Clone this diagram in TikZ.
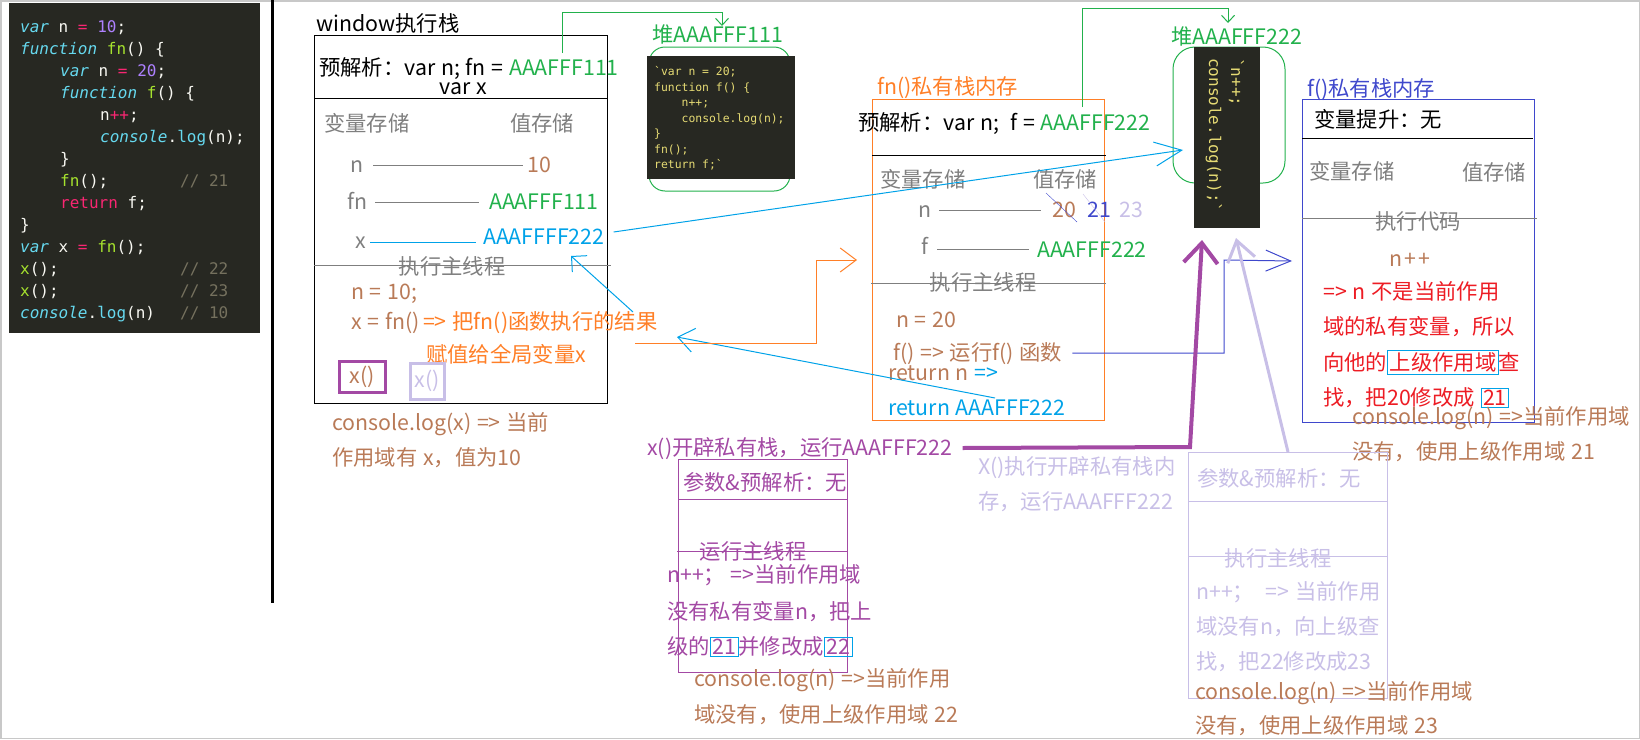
\documentclass[tikz,border=0pt]{standalone}
\usepackage{fontspec}
\setmainfont{Noto Sans CJK SC}
\newfontfamily\codefont{DejaVu Sans Mono}
\usetikzlibrary{positioning,arrows.meta,calc}
\usepackage{xcolor}

\definecolor{codebg}{RGB}{39,40,34}
\definecolor{mkwhite}{RGB}{248,248,242}
\definecolor{mkcyan}{RGB}{102,217,239}
\definecolor{mkpink}{RGB}{249,38,114}
\definecolor{mkpurple}{RGB}{174,129,255}
\definecolor{mkgreen}{RGB}{166,226,46}
\definecolor{mkgray}{RGB}{117,113,94}
\definecolor{mkyellow}{RGB}{230,219,116}
\definecolor{pbrown}{RGB}{185,122,87}
\definecolor{porange}{RGB}{255,127,39}
\definecolor{pgreen}{RGB}{34,177,76}
\definecolor{pblue}{RGB}{0,162,232}
\definecolor{pindigo}{RGB}{63,72,204}
\definecolor{ppurple}{RGB}{163,73,164}
\definecolor{plavender}{RGB}{200,191,231}
\definecolor{pred}{RGB}{237,28,36}
\definecolor{pgray}{RGB}{127,127,127}
\definecolor{framegray}{RGB}{200,200,200}

\newcommand{\kwd}[1]{{\color{mkcyan}\itshape #1}}
\newcommand{\opr}[1]{{\color{mkpink}#1}}
\newcommand{\numb}[1]{{\color{mkpurple}#1}}
\newcommand{\fnme}[1]{{\color{mkgreen}#1}}
\newcommand{\cfn}[1]{{\color{mkcyan}#1}}
\newcommand{\cmt}[1]{{\color{mkgray}#1}}
\newcommand{\markbox}[2]{{\setlength{\fboxsep}{1.5pt}\setlength{\fboxrule}{1pt}\color{pblue}\fbox{\color{#1}#2}}}
\newcommand{\lblfont}{\fontsize{21.33}{26}\selectfont\spaceskip 0.27em\relax}

\begin{document}
\begin{tikzpicture}[x=1pt,y=-1pt]

	\tikzstyle{lbl}=[inner sep=0pt, anchor=west, text height=18pt, text depth=3pt, font=\lblfont];
	\tikzstyle{ctr}=[lbl, anchor=center];
	\tikzstyle{stackbox}=[draw, rectangle, inner sep=0pt, anchor=north west, line width=1pt];
	\tikzstyle{callbox}=[draw, rectangle, inner sep=0pt, line width=3pt, font=\lblfont];
	\tikzstyle{codeln}=[inner sep=0pt, anchor=base west, text=mkwhite, font=\codefont\fontsize{16}{22}\selectfont];
	\tikzstyle{heapcode}=[inner sep=0pt, anchor=base west, text=mkyellow, font=\codefont\fontsize{11.4}{15}\selectfont];
	\tikzstyle{link}=[line width=1pt];
	\tikzstyle{arr_big}=[link, -{Straight Barb[length=27pt,width=24pt]}];
	\tikzstyle{arr_mid}=[link, -{Straight Barb[length=16pt,width=24pt]}];
	\tikzstyle{arr_short}=[link, -{Straight Barb[length=11pt,width=22pt]}];
	\tikzstyle{arr_small}=[link, -{Straight Barb[length=7pt,width=13pt]}];

	\useasboundingbox (0,0) rectangle (1640,739);
	\draw[framegray, line width=1.5pt] (0.75,0.75) rectangle (1639.25,738.25);

	% source code
	\fill[codebg] (9,3) rectangle (260,333);
	\node[codeln] (code_l1) at (20,32) {\kwd{var} n \opr{=} \numb{10};};
	\node[codeln] (code_l2) at (20,54) {\kwd{function} \fnme{fn}() \{};
	\node[codeln] (code_l3) at (60,76) {\kwd{var} n \opr{=} \numb{20};};
	\node[codeln] (code_l4) at (60,98) {\kwd{function} \fnme{f}() \{};
	\node[codeln] (code_l5) at (100,120) {n\opr{++};};
	\node[codeln] (code_l6) at (100,142) {\kwd{console}.\cfn{log}(n);};
	\node[codeln] (code_l7) at (60,164) {\}};
	\node[codeln] (code_l8) at (60,186) {\fnme{fn}();};
	\node[codeln] (code_c8) at (180,186) {\cmt{// 21}};
	\node[codeln] (code_l9) at (60,208) {\opr{return} f;};
	\node[codeln] (code_l10) at (20,230) {\}};
	\node[codeln] (code_l11) at (20,252) {\kwd{var} x \opr{=} \fnme{fn}();};
	\node[codeln] (code_l12) at (20,274) {\fnme{x}();};
	\node[codeln] (code_c12) at (180,274) {\cmt{// 22}};
	\node[codeln] (code_l13) at (20,296) {\fnme{x}();};
	\node[codeln] (code_c13) at (180,296) {\cmt{// 23}};
	\node[codeln] (code_l14) at (20,318) {\kwd{console}.\cfn{log}(n)};
	\node[codeln] (code_c14) at (180,318) {\cmt{// 10}};
	\draw[line width=3pt] (272,0) -- (272,603);

	% window stack
	\node[lbl] (win_title) at (316,24) {window执行栈};
	\node[stackbox, minimum width=293pt, minimum height=368pt] (win_box) at (314,35) {};
	\draw[link] ([yshift=-63pt]win_box.north west) -- ([yshift=-63pt]win_box.north east);
	\draw[link, pgray] ([yshift=-230pt]win_box.north west) -- ([yshift=-230pt, xshift=3pt]win_box.north east);
	\node[lbl] (win_pre) at (319,68) {预解析：var n; fn = \textcolor{pgreen}{AAAFFF111}};
	\node[ctr] (win_varx) at (463,87) {var x};
	\node[lbl, text=pgray] (win_varhd) at (324,124) {变量存储};
	\node[lbl, text=pgray] (win_valhd) at (510,124) {值存储};
	\node[lbl, text=pgray] (win_n) at (350,165) {n};
	\node[lbl, text=pbrown] (win_n_val) at (527,165) {10};
	\node[lbl, text=pgray] (win_fn) at (347,202) {fn};
	\node[lbl, text=pgreen] (win_fn_val) at (489,202) {AAAFFF111};
	\node[lbl, text=pgray] (win_x) at (355,241) {x};
	\node[lbl, text=pblue] (win_x_val) at (483,237) {AAAFFFF222};
	\draw[link, pgray, shorten <=10pt, shorten >=4pt] (win_n.east) -- (win_n.east -| win_n_val.west);
	\draw[link, pgray, shorten <=8pt, shorten >=10pt] (win_fn.east) -- (win_fn.east -| win_fn_val.west);
	\draw[link, pblue, shorten <=4pt, shorten >=7pt] ([yshift=-1pt]win_x.east) -- ([yshift=-1pt]win_x.east -| win_x_val.west);
	\node[ctr, text=pgray] (win_main) at (452,267) {执行主线程};
	\node[lbl, text=pbrown] (win_n10) at (351,292) {n = 10;};
	\node[lbl, text=pbrown] (win_xfn) at (351,322) {x = fn()\,\textcolor{porange}{=> 把fn()函数执行的结果}};
	\node[lbl, text=porange] (win_assign) at (426,355) {赋值给全局变量x};
	\node[callbox, draw=ppurple, text=pbrown, minimum width=46pt, minimum height=31pt] (win_call1) at (362,377) {x()};
	\node[callbox, draw=plavender, text=plavender, minimum width=34pt, minimum height=36pt] (win_call2) at (427,381) {x()};
	\node[lbl, text=pbrown] (win_log1) at (332,423) {console.log(x) => 当前};
	\node[lbl, text=pbrown] (win_log2) at (332,458) {作用域有 x，值为10};

	% heap AAAFFF111
	\node[lbl, text=pgreen] (heap1_title) at (652,35) {堆AAAFFF111};
	\draw[link, pgreen, rounded corners=16pt] (649,47) rectangle (790,191);
	\fill[codebg] (647,56) rectangle (795,179);
	\foreach \ln [count=\i from 0] in {{\textasciigrave var n = 20;},{function f() \{},{\ \ \ \ n++;},{\ \ \ \ console.log(n);},{\}},{fn();},{return f;\textasciigrave}}
		\node[heapcode] (heap1_l\i) at (654,75.5+15.5*\i) {\ln};

	% fn() stack
	\node[lbl, text=porange] (fn_title) at (877,87) {fn()私有栈内存};
	\node[stackbox, draw=porange, minimum width=232pt, minimum height=321pt] (fn_box) at (872,99) {};
	\draw[link] ([yshift=-56pt]fn_box.north west) -- ([yshift=-56pt, xshift=1pt]fn_box.north east);
	\draw[link, pgray] ([yshift=-184pt, xshift=-1pt]fn_box.north west) -- ([yshift=-184pt, xshift=1pt]fn_box.north east);
	\node[lbl] (fn_pre) at (858,123) {预解析：var n;\ \ f = \textcolor{pgreen}{AAAFFF222}};
	\node[lbl, text=pgray] (fn_varhd) at (880,180) {变量存储};
	\node[lbl, text=pgray] (fn_valhd) at (1033,180) {值存储};
	\node[lbl, text=pgray] (fn_n) at (918,210) {n};
	\node[lbl, text=pbrown] (fn_n20) at (1052,210) {20};
	\node[lbl, text=pindigo, right=11pt of fn_n20] (fn_n21) {21};
	\node[lbl, text=plavender, right=8pt of fn_n21] (fn_n23) {23};
	\draw[link, pgray, shorten <=8pt, shorten >=11pt] (fn_n.east) -- (fn_n.east -| fn_n20.west);
	\draw[pindigo] (1046,193) -- (1077,222);
	\draw[plavender] (1083,194) -- (1105,222);
	\node[lbl, text=pgray] (fn_f) at (921,247) {f};
	\node[lbl, text=pgreen] (fn_f_val) at (1037,250) {AAAFFF222};
	\draw[link, pgray, shorten <=9pt, shorten >=8pt] ([yshift=-2pt]fn_f.east) -- ([yshift=-2pt]fn_f.east -| fn_f_val.west);
	\node[ctr, text=pgray] (fn_main) at (983,283) {执行主线程};
	\node[lbl, text=pbrown] (fn_n20set) at (896,320) {n = 20};
	\node[lbl, text=pbrown] (fn_callf) at (893,353) {f() => 运行f() 函数};
	\node[lbl, text=pbrown] (fn_ret1) at (888,373) {return n \textcolor{pblue}{=>}};
	\node[lbl, text=pblue] (fn_ret2) at (888,408) {return AAAFFF222};

	% heap AAAFFF222
	\node[lbl, text=pgreen] (heap2_title) at (1171,37) {堆AAAFFF222};
	\draw[link, pgreen, rounded corners=22pt] (1173,47) rectangle (1285,183);
	\fill[codebg] (1194,47) rectangle (1260,228);
	\node[codeln, text=mkyellow, rotate=-90] (heap2_l1) at (1231,58) {\textasciigrave n++;};
	\node[codeln, text=mkyellow, rotate=-90] (heap2_l2) at (1209,58) {console.log(n);\textasciigrave};

	% f() stack
	\node[lbl, text=pindigo] (f_title) at (1307,89) {f()私有栈内存};
	\node[stackbox, draw=pindigo, minimum width=232pt, minimum height=323pt] (f_box) at (1302,99) {};
	\draw[link] ([yshift=-39pt]f_box.north west) -- ([yshift=-39pt, xshift=-2pt]f_box.north east);
	\draw[link, pgray] ([yshift=-119pt]f_box.north west) -- ([yshift=-119pt, xshift=2pt]f_box.north east);
	\node[lbl] (f_hoist) at (1314,120) {变量提升：无};
	\node[lbl, text=pgray] (f_varhd) at (1309,172) {变量存储};
	\node[lbl, text=pgray] (f_valhd) at (1462,173) {值存储};
	\node[ctr, text=pgray] (f_main) at (1418,222) {执行代码};
	\node[ctr, text=pbrown] (f_inc) at (1410,259) {n\kern2pt+\kern2pt+};
	\node[lbl, text=pred] (f_r1) at (1323,292) {=> n 不是当前作用};
	\node[lbl, text=pred] (f_r2) at (1323,327) {域的私有变量，所以};
	\node[lbl, text=pred] (f_r3) at (1323,363) {向他的\markbox{pred}{上级作用域}查};
	\node[lbl, text=pred] (f_r4) at (1323,398) {找，把20修改成 \markbox{pred}{21}};
	\node[lbl, text=pbrown] (f_log1) at (1352,417) {console.log(n) =>当前作用域};
	\node[lbl, text=pbrown] (f_log2) at (1352,452) {没有，使用上级作用域 21};

	% first x() call
	\node[lbl, text=ppurple] (x1_title) at (647,448) {x()开辟私有栈，运行AAAFFF222};
	\node[stackbox, draw=ppurple, minimum width=169pt, minimum height=213pt] (x1_box) at (678,459) {};
	\draw[link, ppurple] ([yshift=-40pt]x1_box.north west) -- ([yshift=-40pt]x1_box.north east);
	\draw[link, ppurple] ([yshift=-92pt, xshift=-1pt]x1_box.north west) -- ([yshift=-92pt]x1_box.north east);
	\node[lbl, text=ppurple] (x1_pre) at (683,483) {参数\&预解析：无};
	\node[ctr, text=ppurple] (x1_main) at (753,552) {运行主线程};
	\node[lbl, text=ppurple] (x1_l1) at (667,575) {n++；\ =>当前作用域};
	\node[lbl, text=ppurple] (x1_l2) at (667,612) {没有私有变量n，把上};
	\node[lbl, text=ppurple] (x1_l3) at (667,647) {级的\markbox{ppurple}{21}并修改成\markbox{ppurple}{22}};
	\node[lbl, text=pbrown] (x1_log1) at (694,679) {console.log(n) =>当前作用};
	\node[lbl, text=pbrown] (x1_log2) at (694,715) {域没有，使用上级作用域 22};

	% second x() call
	\node[lbl, text=plavender] (x2_title1) at (978,467) {X()执行开辟私有栈内};
	\node[lbl, text=plavender] (x2_title2) at (978,502) {存，运行AAAFFF222};
	\node[stackbox, draw=plavender, minimum width=199pt, minimum height=246pt] (x2_box) at (1188,452) {};
	\draw[link, plavender] ([yshift=-49pt]x2_box.north west) -- ([yshift=-49pt]x2_box.north east);
	\draw[link, plavender] ([yshift=-104pt]x2_box.north west) -- ([yshift=-104pt]x2_box.north east);
	\node[lbl, text=plavender] (x2_pre) at (1197,479) {参数\&预解析：无};
	\node[ctr, text=plavender] (x2_main) at (1278,559) {执行主线程};
	\node[lbl, text=plavender] (x2_l1) at (1196,592) {n++；\ \ => 当前作用};
	\node[lbl, text=plavender] (x2_l2) at (1196,627) {域没有n，向上级查};
	\node[lbl, text=plavender] (x2_l3) at (1196,662) {找，把22修改成23};
	\node[lbl, text=pbrown] (x2_log1) at (1195,692) {console.log(n) =>当前作用域};
	\node[lbl, text=pbrown] (x2_log2) at (1195,726) {没有，使用上级作用域 23};

	% connectors
	\coordinate (g1_start) at (562,53);
	\coordinate (g1_end) at (722,26);
	\coordinate (g2_start) at (1082,107);
	\coordinate (g2_end) at (1228,23);
	\coordinate (heap2_in) at (1183,150);
	\coordinate (ret_start) at (995,398);
	\coordinate (ret_end) at (677,337);
	\coordinate (res_start) at (633,312);
	\coordinate (res_end) at (571,256);
	\coordinate (orange_start) at (635,343);
	\coordinate (heap2_p) at (1202,240);
	\coordinate (heap2_l) at (1236,238);

	\draw[arr_small, pgreen] (g1_start) |- ++(160,-41) -- (g1_end);
	\draw[arr_small, pgreen] (g2_start) |- ++(146,-99) -- (g2_end);
	\draw[arr_big, pblue] ([xshift=9pt, yshift=5pt]win_x_val.east) -- (heap2_in);
	\draw[arr_mid, pblue] (ret_start) -- (ret_end);
	\draw[arr_short, pblue] (res_start) -- (res_end);
	\draw[arr_mid, porange] (orange_start) -- ++(181,0) |- ([xshift=-15pt]fn_box.west);
	\draw[link, pindigo, -{Straight Barb[length=25pt,width=21pt]}] ([xshift=10pt]fn_callf.east) -| (1224,260) -- ([xshift=-10pt]f_box.west);
	\draw[ppurple, line width=4pt, -{Straight Barb[length=20pt,width=34pt]}] ([xshift=10pt]x1_title.east) -- (1190,447) -- (heap2_p);
	\draw[plavender, line width=3pt, -{Straight Barb[length=20pt,width=28pt]}] (x2_box.north) -- (heap2_l);

\end{tikzpicture}
\end{document}
